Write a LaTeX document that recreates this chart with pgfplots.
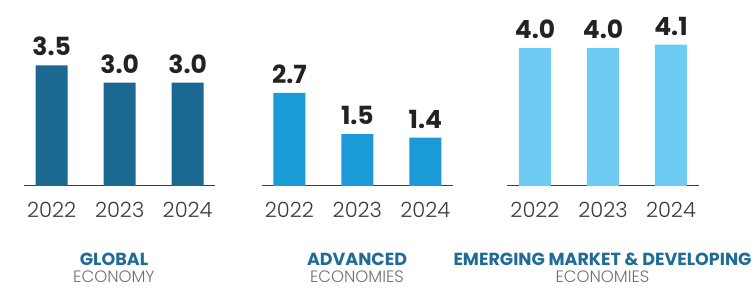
\documentclass[border=0pt]{standalone}
\usepackage{pgfplots}
\pgfplotsset{compat=1.18}
\usepackage{fontspec}
\setmainfont{Poppins}
\newfontfamily\lightfont{Poppins Light}
\definecolor{c1}{HTML}{1B6990}
\definecolor{c2}{HTML}{1A9AD6}
\definecolor{c3}{HTML}{6DCAF2}
\definecolor{tblue}{HTML}{1F6C96}
\definecolor{tgray}{HTML}{707070}
\definecolor{ygray}{HTML}{3A3A3A}
\definecolor{vdark}{HTML}{222222}
\pgfplotsset{grp/.style={
  scale only axis, width=191.2pt, height=155.25pt,
  xmin=-0.407, xmax=2.405, ymin=0, ymax=4.5,
  axis x line=bottom, axis y line=none,
  x axis line style={-, draw=ygray, line width=1pt},
  xtick={0,1,2}, xticklabels={2022,2023,2024}, major tick length=0pt,
  xticklabel style={font=\fontsize{21}{21}\selectfont\lightfont, text=ygray, anchor=base, yshift=-32pt},
  ybar, bar width=32pt,
  point meta=explicit symbolic,
  nodes near coords,
  nodes near coords style={font=\fontsize{25}{25}\selectfont\bfseries, text=vdark, anchor=south, inner sep=0pt, yshift=9pt},
}}
\begin{document}
\begin{tikzpicture}
\path[use as bounding box] (0,0) rectangle (756pt,-288pt);
\begin{axis}[grp, at={(24pt,-186pt)}, anchor=south west]
\addplot[fill=c1, draw=none] coordinates {(0,3.5) [3.5] (1,3.0) [3.0] (2,3.0) [3.0]};
\end{axis}
\begin{axis}[grp, at={(261.7pt,-186pt)}, anchor=south west]
\addplot[fill=c2, draw=none] coordinates {(0,2.7) [2.7] (1,1.5) [1.5] (2,1.4) [1.4]};
\end{axis}
\begin{axis}[grp, at={(507.3pt,-186pt)}, anchor=south west]
\addplot[fill=c3, draw=none] coordinates {(0,4.0) [4.0] (1,4.0) [4.0] (2,4.1) [4.1]};
\end{axis}
\node[font=\fontsize{17.5}{17.5}\selectfont\bfseries, text=tblue] at (114pt,-259.5pt) {GLOBAL};
\node[font=\fontsize{16.5}{16.5}\selectfont\lightfont, text=tgray, inner sep=1pt] at (114pt,-277pt) {ECONOMY};
\node[font=\fontsize{17.5}{17.5}\selectfont\bfseries, text=tblue] at (357pt,-259.5pt) {ADVANCED};
\node[font=\fontsize{16.5}{16.5}\selectfont\lightfont, text=tgray, inner sep=1pt] at (357pt,-277pt) {ECONOMIES};
\node[font=\fontsize{17.5}{17.5}\selectfont\bfseries, text=tblue] at (602.5pt,-259.5pt) {EMERGING MARKET \& DEVELOPING};
\node[font=\fontsize{16.5}{16.5}\selectfont\lightfont, text=tgray, inner sep=1pt] at (602.5pt,-277pt) {ECONOMIES};
\end{tikzpicture}
\end{document}
